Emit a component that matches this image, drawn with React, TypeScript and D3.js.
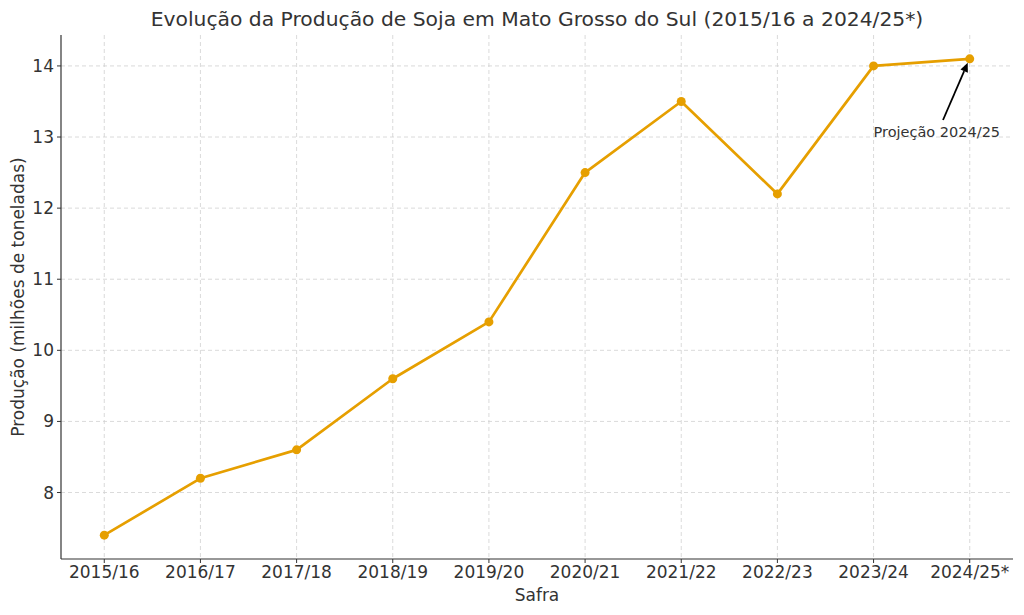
import React from "react";
import * as d3 from "d3";

const safras = ["2015/16","2016/17","2017/18","2018/19","2019/20","2020/21","2021/22","2022/23","2023/24","2024/25*"];
const producao = [7.4, 8.2, 8.6, 9.6, 10.4, 12.5, 13.5, 12.2, 14.0, 14.1];
const yTicks = [8, 9, 10, 11, 12, 13, 14];

const W = 1024, H = 615;
const M = { left: 61, right: 1013, top: 35, bottom: 559 };
const FONT = "'DejaVu Sans', sans-serif";
const TXT = "#333333";

export default function App() {
  const x = d3.scaleLinear().domain([-0.45, safras.length - 1 + 0.45]).range([M.left, M.right]);
  const ext = d3.extent(producao) as [number, number];
  const pad = (ext[1] - ext[0]) * 0.05;
  const y = d3.scaleLinear().domain([ext[0] - pad, ext[1] + pad]).range([M.bottom, M.top]);
  const line = d3.line<number>().x((_, i) => x(i)).y((d) => y(d));

  const lastI = safras.length - 1;
  const tipX = x(lastI) - 2, tipY = y(producao[lastI]) + 4;
  const tailX = 943, tailY = 120;
  const ang = Math.atan2(tipY - tailY, tipX - tailX);
  const ah = 9, aw = 4;
  const bx = tipX - ah * Math.cos(ang), by = tipY - ah * Math.sin(ang);
  const px = -Math.sin(ang), py = Math.cos(ang);

  return (
    <svg width={W} height={H} style={{ display: "block", position: "absolute", left: 0, top: 0 }} fontFamily={FONT}>
      <rect width={W} height={H} fill="#fff" />
      <text x={(M.left + M.right) / 2} y={26} textAnchor="middle" fontSize={20.3} fill={TXT}>
        Evolução da Produção de Soja em Mato Grosso do Sul (2015/16 a 2024/25*)
      </text>
      {safras.map((s, i) => (
        <g key={s}>
          <line x1={x(i)} x2={x(i)} y1={M.top} y2={M.bottom} stroke="#d0d0d0" strokeWidth={0.8} strokeDasharray="4,3" />
          <line x1={x(i)} x2={x(i)} y1={M.bottom} y2={M.bottom + 4} stroke={TXT} strokeWidth={1} />
          <text x={x(i)} y={578} textAnchor="middle" fontSize={17} fill={TXT}>{s}</text>
        </g>
      ))}
      {yTicks.map((t) => (
        <g key={t}>
          <line x1={M.left} x2={M.right} y1={y(t)} y2={y(t)} stroke="#d0d0d0" strokeWidth={0.8} strokeDasharray="4,3" />
          <line x1={M.left - 4} x2={M.left} y1={y(t)} y2={y(t)} stroke={TXT} strokeWidth={1} />
          <text x={54} y={y(t) + 6} textAnchor="end" fontSize={17} fill={TXT}>{t}</text>
        </g>
      ))}
      <line x1={M.left} x2={M.left} y1={M.top} y2={M.bottom} stroke={TXT} strokeWidth={1.2} />
      <line x1={M.left} x2={M.right} y1={M.bottom} y2={M.bottom} stroke={TXT} strokeWidth={1.2} />
      <text x={(M.left + M.right) / 2} y={601} textAnchor="middle" fontSize={17} fill={TXT}>Safra</text>
      <text transform={`translate(24,${(M.top + M.bottom) / 2}) rotate(-90)`} textAnchor="middle" fontSize={17} fill={TXT}>
        Produção (milhões de toneladas)
      </text>
      <path d={line(producao) || ""} fill="none" stroke="#E69F00" strokeWidth={2.7} strokeLinejoin="round" />
      {producao.map((v, i) => (
        <circle key={i} cx={x(i)} cy={y(v)} r={4.5} fill="#E69F00" />
      ))}
      <line x1={tailX} y1={tailY} x2={bx} y2={by} stroke="#000" strokeWidth={1.8} />
      <path d={`M${tipX},${tipY} L${bx + px * aw},${by + py * aw} L${bx - px * aw},${by - py * aw} Z`} fill="#000" />
      <text x={x(8)} y={137} fontSize={14.5} fill={TXT}>Projeção 2024/25</text>
    </svg>
  );
}
